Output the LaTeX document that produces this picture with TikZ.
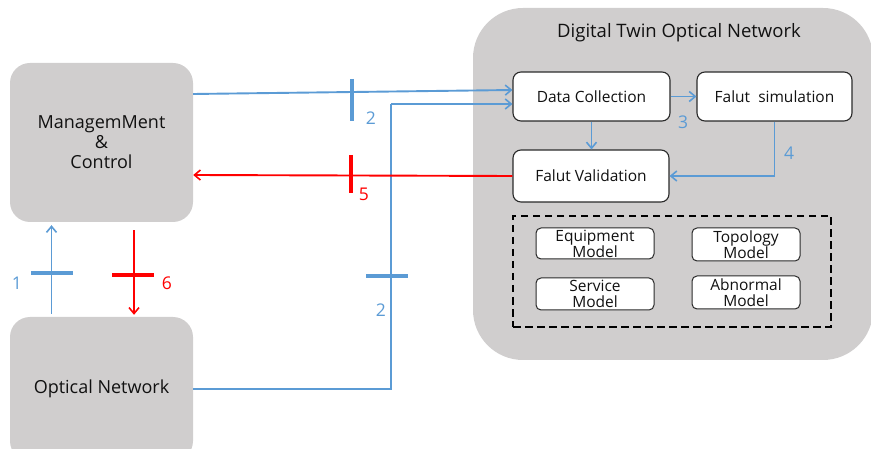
\documentclass[tikz,border=0pt]{standalone}
\usepackage{fontspec}
\setmainfont{Open Sans}
\usetikzlibrary{arrows.meta,calc}
\definecolor{boxgray}{HTML}{D0CECE}
\definecolor{linkblue}{HTML}{5B9BD5}
\definecolor{linkred}{HTML}{FF0000}
\definecolor{edgegray}{HTML}{2A2A2A}
\definecolor{ink}{HTML}{111111}

\begin{document}
\begin{tikzpicture}[x=1pt,y=-1pt,
  panel/.style={fill=boxgray, rounded corners=20pt, inner sep=0pt, align=center,
    text=ink, font=\fontsize{18}{20}\selectfont},
  stage/.style={draw=edgegray, line width=1.1pt, fill=white, rounded corners=8pt,
    inner sep=0pt, text=ink, font=\fontsize{15.5}{18}\selectfont},
  model/.style={draw=edgegray, line width=1pt, fill=white, rounded corners=5pt,
    inner sep=0pt, align=center, text=ink, font=\fontsize{15.5}{16}\selectfont},
  flow/.style={line width=1.9pt, -{Straight Barb[length=6pt,width=10pt,line width=1.6pt]}},
  bflow/.style={flow, draw=linkblue},
  rflow/.style={flow, draw=linkred},
  plainlink/.style={line width=1.9pt},
  tickmark/.style={line width=3.2pt},
  steplabel/.style={font=\fontsize{17.5}{20}\selectfont, inner sep=0pt}
]
\useasboundingbox (0,0) rectangle (871,449);
\clip (0,0) rectangle (871,449);

% outer blocks
\node[panel, minimum width=183pt, minimum height=159pt] (mgmt) at (101.5,142.5)
  {ManagemMent\\\&\\Control};
\node[panel, minimum width=183pt, minimum height=144pt] (on) at (101.5,389)
  {Optical Network};
\node[fill=boxgray, rounded corners=50pt, minimum width=400pt, minimum height=352pt,
  inner sep=0pt] (dt) at (673,184) {};
\node[text=ink, font=\fontsize{18.5}{20}\selectfont, inner sep=0pt] (dttitle) at (679,33)
  {Digital Twin Optical Network};

% functional stages inside the twin
\node[stage, minimum width=157pt, minimum height=49pt] (dc) at (591.5,96.5) {Data Collection};
\node[stage, minimum width=155pt, minimum height=49pt] (fs) at (774.5,96.5) {Falut\ \ simulation};
\node[stage, minimum width=156pt, minimum height=52pt] (fv) at (591,176) {Falut Validation};

% model repository
\node[draw=black, line width=2.2pt, dash pattern=on 7.5pt off 4.5pt, minimum width=318pt,
  minimum height=111pt, inner sep=0pt] (repo) at (672,271.5) {};
\node[model, minimum width=118pt, minimum height=31pt] (eq) at (595,243.5) {Equipment\\Model};
\node[model, minimum width=108pt, minimum height=33pt] (tp) at (746,244.5) {Topology\\Model};
\node[model, minimum width=118pt, minimum height=32pt] (sv) at (595,294) {Service\\Model};
\node[model, minimum width=108pt, minimum height=33pt] (ab) at (746,292.5) {Abnormal\\Model};

% step 1: network to management
\draw[bflow] ([xshift=-50pt,yshift=3pt]on.north) -- ([xshift=-50pt,yshift=-3pt]mgmt.south);
\draw[tickmark, linkblue] (31,273) -- (73,273);
\node[steplabel, text=linkblue] (l1) at (17,283) {1};

% step 2: management and network to data collection
\draw[bflow] ([yshift=48.5pt]mgmt.east) -- ([yshift=6.5pt]dc.west);
\draw[tickmark, linkblue] (352,79) -- (352,121);
\node[steplabel, text=linkblue] (l2a) at (371,118) {2};
\coordinate (riser) at (391,104);
\draw[plainlink, linkblue] (on.east) -| (riser);
\draw[bflow] (riser) -- ([yshift=-7.5pt]dc.west);
\draw[tickmark, linkblue] (366,276) -- (408,276);
\node[steplabel, text=linkblue] (l2b) at (381,310) {2};

% step 3 and 4: inside the twin
\draw[bflow] (dc.east) -- (fs.west);
\node[steplabel, text=linkblue] (l3) at (683,122) {3};
\draw[bflow] (dc.south) -- (dc.south |- fv.north);
\draw[bflow] (fs.south) |- (fv.east);
\node[steplabel, text=linkblue] (l4) at (789,153) {4};

% step 5: validation result back to management
\draw[rflow] (fv.west) -- ([yshift=-32.5pt]mgmt.east);
\draw[tickmark, linkred] (351,155) -- (351,193);
\node[steplabel, text=linkred] (l5) at (364,194) {5};

% step 6: management acts on the network
\draw[rflow] ([xshift=32.5pt,yshift=-8pt]mgmt.south) -- ([xshift=32.5pt,yshift=2pt]on.north);
\draw[tickmark, linkred] (112,275) -- (154,275);
\node[steplabel, text=linkred] (l6) at (167,283) {6};
\end{tikzpicture}
\end{document}
